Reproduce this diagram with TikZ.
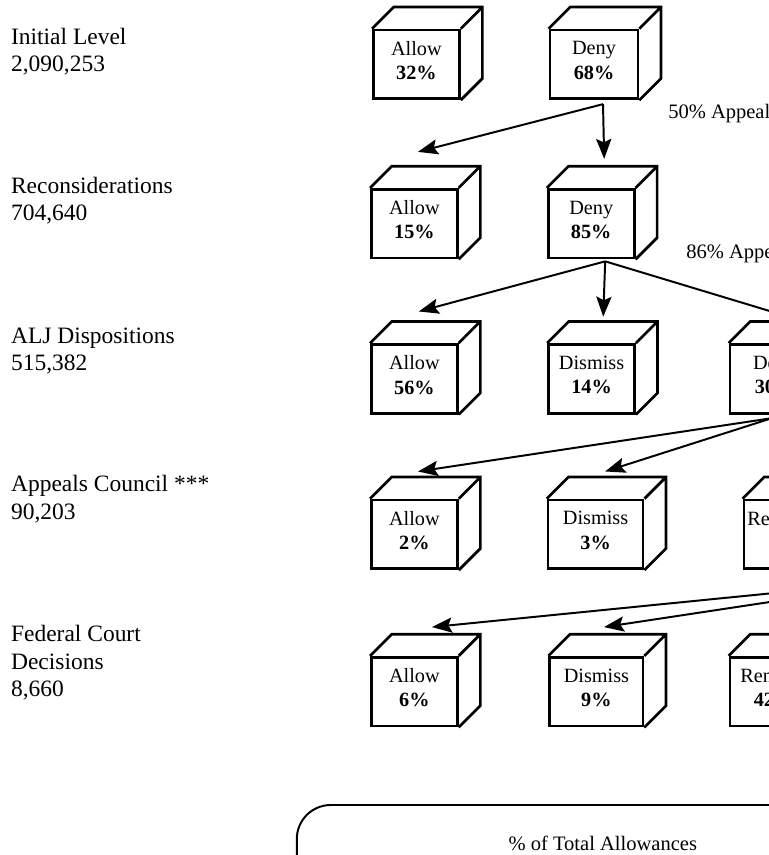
\documentclass[tikz,border=0pt]{standalone}
\usepackage{fontspec}
\setmainfont{Liberation Serif}
\usetikzlibrary{arrows.meta,calc}

\newcommand{\levelfont}{\fontsize{16.7}{19.5}\selectfont}
\newcommand{\boxfont}{\fontsize{14.4}{17.4}\selectfont}
\newcommand{\notefont}{\fontsize{14.6}{16}\selectfont}
\def\cubedepth{0.54}
\newcommand{\cubeback}[1]{\draw[cubeline] (#1.north west) -- ++(\cubedepth,\cubedepth) -- ([shift={(\cubedepth,\cubedepth)}]#1.north east) -- ([shift={(\cubedepth,\cubedepth)}]#1.south east) -- (#1.south east) (#1.north east) -- ++(\cubedepth,\cubedepth);}

\tikzset{
	cubeline/.style={line width=1.9pt},
	cube/.style={draw, line width=1.9pt, minimum width=2.15cm, minimum height=1.72cm, inner sep=0pt, text depth=0.2cm, align=center, font=\boxfont},
	level/.style={anchor=base west, align=left, inner sep=0pt, font=\levelfont},
	note/.style={anchor=base west, inner sep=0pt, font=\notefont},
	flow/.style={line width=1.4pt, -{Stealth[length=0.5cm,width=0.38cm,inset=0.09cm]}},
}

\begin{document}
\begin{tikzpicture}
	\useasboundingbox (0,0) rectangle (19.225,-21.375);
	\clip (0,0) rectangle (19.225,-21.375);
	%\draw[help lines] (0,-22) grid (20,0);
	\node[level] (lev1) at (0.27,-1.793) {Initial Level\\2,090,253};
	\node[level] (lev2) at (0.27,-5.518) {Reconsiderations\\704,640};
	\node[level] (lev3) at (0.27,-9.268) {ALJ Dispositions\\515,382};
	\node[level] (lev4) at (0.27,-12.975) {Appeals Council ***\\90,203};
	\node[level] (lev5) at (0.27,-17.418) {Federal Court\\Decisions\\8,660};

	\node[cube] (A1) at (10.41,-1.61) {Allow\\\textbf{32\%}};
	\node[cube, minimum width=2.2cm] (D1) at (14.85,-1.61) {Deny\\\textbf{68\%}};
	\node[cube] (A2) at (10.36,-5.59) {Allow\\\textbf{15\%}};
	\node[cube] (D2) at (14.78,-5.59) {Deny\\\textbf{85\%}};
	\node[cube] (A3) at (10.36,-9.47) {Allow\\\textbf{56\%}};
	\node[cube] (S3) at (14.79,-9.47) {Dismiss\\\textbf{14\%}};
	\node[cube, minimum width=2.25cm] (D3) at (19.375,-9.47) {Deny\\\textbf{30\%}};
	\node[cube] (A4) at (10.36,-13.36) {Allow\\\textbf{2\%}};
	\node[cube, minimum width=2.375cm] (S4) at (14.89,-13.36) {Dismiss\\\textbf{3\%}};
	\node[cube, minimum width=1.85cm] (R4) at (19.525,-13.36) {Remand\\\textbf{\phantom{0\%}}};
	\node[cube] (A5) at (10.36,-17.29) {Allow\\\textbf{6\%}};
	\node[cube, minimum width=2.33cm] (S5) at (14.91,-17.29) {Dismiss\\\textbf{9\%}};
	\node[cube, minimum width=2.2cm] (R5) at (19.35,-17.29) {Remand\\\textbf{42\%}};
	\foreach \c in {A1,D1,A2,D2,A3,S3,D3,A4,S4,R4,A5,S5,R5} {\cubeback{\c}}

	\node[note] (appeal1) at (16.7,-2.958) {50\% Appeal};
	\node[note] (appeal2) at (17.15,-6.458) {86\% Appeal};

	\coordinate (d1out) at ([shift={(0.225,-0.1)}]D1.south);
	\draw[flow] (d1out) -- ([shift={(0.09,0.9)}]A2.north);
	\draw[flow] (d1out) -- ([shift={(0.325,0.725)}]D2.north);
	\coordinate (d2out) at ([shift={(0.35,-0.05)}]D2.south);
	\draw[flow] (d2out) -- ([shift={(0.11,0.79)}]A3.north);
	\draw[flow] (d2out) -- ([shift={(0.29,0.66)}]S3.north);
	\draw[flow] (d2out) -- ([shift={(0.5,0.61)}]D3.north);
	\coordinate (d3out) at ([shift={(-0.075,-0.09)}]D3.south);
	\draw[flow] (d3out) -- ([shift={(0.09,0.68)}]A4.north);
	\draw[flow] (d3out) -- ([shift={(0.24,0.68)}]S4.north);
	\coordinate (d4out) at (23.375,-14.425);
	\draw[flow] (d4out) -- ([shift={(0.44,0.72)}]A5.north);
	\draw[flow] (d4out) -- ([shift={(0.19,0.72)}]S5.north);

	\draw[line width=1.4pt, rounded corners=0.85cm] (7.42,-20.125) rectangle (26,-25);
	\node[anchor=base, inner sep=0pt, font=\fontsize{14.6}{17}\selectfont] (legtitle) at (15.07,-21.25) {\% of Total Allowances};
\end{tikzpicture}
\end{document}
